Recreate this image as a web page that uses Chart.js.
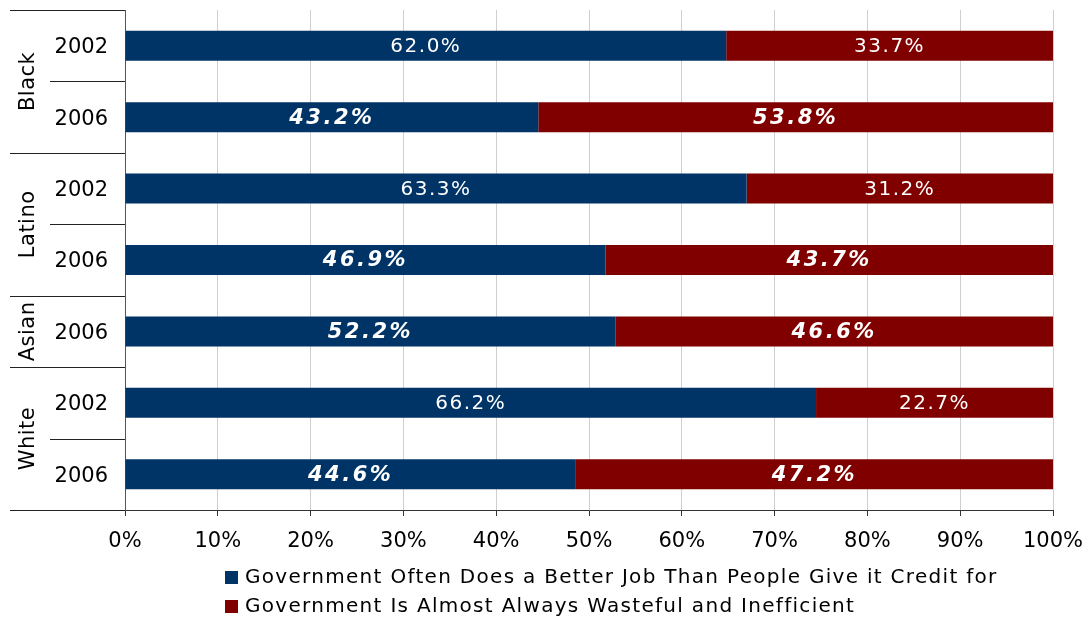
<!DOCTYPE html>
<html><head><meta charset="utf-8">
<script src="https://cdn.jsdelivr.net/npm/chart.js@4/dist/chart.umd.min.js"></script>
<style>html,body{margin:0;padding:0;background:#fff}#wrap{width:1090px;height:620px}</style>
</head><body><div id="wrap"><canvas id="c" width="1090" height="620"></canvas></div>
<script>
const yearLabels = ['2002','2006','2002','2006','2006','2002','2006'];
const groupNames = ['Black','Latino','Asian','White'];
const groupSizes = [2,2,1,2];
const betterJob = [62.0,43.2,63.3,46.9,52.2,66.2,44.6];
const wasteful = [33.7,53.8,31.2,43.7,46.6,22.7,47.2];
const seriesNames = ['Government Often Does a Better Job Than People Give it Credit for','Government Is Almost Always Wasteful and Inefficient'];
const xTicks = [0,10,20,30,40,50,60,70,80,90,100];
const colors = ['#003366','#800000'];
const FONT = 'DejaVu Sans';

const share = (a,b) => a.map((v,i)=> v/(v+b[i])*100);

const labelPlugin = {
  id:'lbls',
  afterDatasetsDraw(chart){
    const ctx = chart.ctx;
    const raws = [betterJob, wasteful];
    chart.data.datasets.forEach((ds,di)=>{
      const meta = chart.getDatasetMeta(di);
      meta.data.forEach((el,i)=>{
        const cx = (el.x + el.base)/2;
        const is2006 = yearLabels[i]==='2006';
        ctx.save();
        ctx.fillStyle = '#fff';
        ctx.textAlign='center'; ctx.textBaseline='middle';
        ctx.font = is2006 ? `italic bold 21px "${FONT}"` : `20px "${FONT}"`;
        if (ctx.letterSpacing !== undefined) ctx.letterSpacing = is2006 ? '2.5px' : '1.5px';
        ctx.fillText(raws[di][i].toFixed(1)+'%', cx, el.y+1);
        ctx.restore();
      });
    });
  },
  afterDraw(chart){
    const ctx = chart.ctx, y = chart.scales.y, ca = chart.chartArea;
    const L = 10;
    ctx.save();
    ctx.strokeStyle = '#222'; ctx.lineWidth = 1;
    const bound = i => i===0 ? ca.top : (i>=yearLabels.length ? ca.bottom : (y.getPixelForValue(i-1)+y.getPixelForValue(i))/2);
    let idx = 0;
    const line=(x1,yy,x2)=>{ctx.beginPath();ctx.moveTo(x1,Math.round(yy)+0.5);ctx.lineTo(x2,Math.round(yy)+0.5);ctx.stroke();};
    line(L, ca.top, ca.left);
    groupNames.forEach((g,gi)=>{
      const start = idx, end = idx+groupSizes[gi];
      for(let k=start+1;k<end;k++) line(50, bound(k), ca.left);
      line(L, bound(end), ca.left);
      const cy = (bound(start)+bound(end))/2;
      ctx.save();
      ctx.translate(29, cy); ctx.rotate(-Math.PI/2);
      ctx.fillStyle='#000'; ctx.font=`21px "${FONT}"`; ctx.textAlign='center'; ctx.textBaseline='middle';
      if (ctx.letterSpacing !== undefined) ctx.letterSpacing = '0.5px';
      ctx.fillText(g,0,0);
      ctx.restore();
      idx = end;
    });
    // legend
    ctx.font = `20px "${FONT}"`;
    if (ctx.letterSpacing !== undefined) ctx.letterSpacing = '1.3px';
    ctx.textBaseline='middle'; ctx.textAlign='left';
    chart.data.datasets.forEach((ds,i)=>{
      const yy = 578 + i*29;
      ctx.fillStyle = ds.backgroundColor;
      ctx.fillRect(225, yy-7, 13, 13);
      ctx.fillStyle = '#000';
      ctx.fillText(ds.label, 245, yy);
    });
    ctx.restore();
  }
};

new Chart(document.getElementById('c'), {
  type:'bar',
  data:{
    labels: yearLabels,
    datasets:[
      {label: seriesNames[0], data: share(betterJob,wasteful), backgroundColor: colors[0]},
      {label: seriesNames[1], data: share(wasteful,betterJob), backgroundColor: colors[1]}
    ]
  },
  options:{
    indexAxis:'y', responsive:false, animation:false,
    layout:{padding:{left:10,top:10,right:37,bottom:70}},
    plugins:{legend:{display:false}, tooltip:{enabled:false}},
    datasets:{bar:{categoryPercentage:1, barPercentage:0.42}},
    scales:{
      x:{stacked:true, min:0, max:100,
        afterBuildTicks: s => { s.ticks = xTicks.map(v=>({value:v})); },
        afterFit: s => { s.height = 40; s.paddingLeft = 0; s.paddingRight = 0; },
        grid:{color:'#cfcfcf', drawTicks:true, tickLength:6, tickColor:'#333'},
        border:{color:'#333'},
        ticks:{color:'#000', font:{family:FONT,size:21}, padding:13, callback:v=>v+'%', maxRotation:0}
      },
      y:{stacked:true,
        afterFit: s => { s.width = 115; s.paddingTop = 0; s.paddingBottom = 0; },
        grid:{display:false},
        border:{display:true, color:'#555'},
        ticks:{color:'#000', font:{family:FONT,size:21}, padding:9, labelOffset:2}
      }
    }
  },
  plugins:[labelPlugin]
});
</script>
</body></html>
